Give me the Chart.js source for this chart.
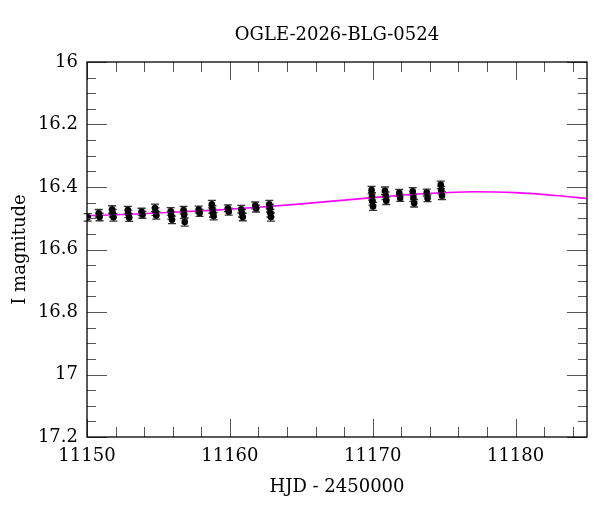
<!DOCTYPE html>
<html>
<head>
<meta charset="utf-8">
<script src="https://cdn.jsdelivr.net/npm/chart.js@4.4.1/dist/chart.umd.min.js"></script>
<style>
  html, body { margin: 0; padding: 0; background: #fff; }
  #wrap { width: 600px; height: 512px; }
</style>
</head>
<body>
<div id="wrap"><canvas id="lc"></canvas></div>
<script>
// observations: HJD - 2450000, I magnitude, error
var obsHjd = [
  11150.05,
  11150.82, 11150.88,
  11151.76, 11151.80, 11151.85,
  11152.86, 11152.90, 11152.95,
  11153.82, 11153.88,
  11154.76, 11154.80, 11154.85,
  11155.86, 11155.90, 11155.95,
  11156.76, 11156.80, 11156.84,
  11157.82, 11157.88,
  11158.74, 11158.78, 11158.82, 11158.86,
  11159.86, 11159.92,
  11160.80, 11160.85, 11160.90,
  11161.78, 11161.84,
  11162.76, 11162.80, 11162.84, 11162.88,
  11169.92, 11169.95, 11169.98, 11170.02,
  11170.86, 11170.90, 11170.95,
  11171.86, 11171.92,
  11172.80, 11172.85, 11172.90,
  11173.78, 11173.84,
  11174.76, 11174.80, 11174.85
];
var obsMag = [
  16.497,
  16.484, 16.496,
  16.472, 16.484, 16.497,
  16.474, 16.486, 16.498,
  16.479, 16.489,
  16.467, 16.479, 16.491,
  16.478, 16.491, 16.505,
  16.474, 16.489, 16.512,
  16.472, 16.483,
  16.455, 16.472, 16.484, 16.493,
  16.468, 16.479,
  16.471, 16.484, 16.496,
  16.459, 16.469,
  16.455, 16.468, 16.484, 16.496,
  16.410, 16.430, 16.446, 16.462,
  16.412, 16.428, 16.444,
  16.419, 16.435,
  16.414, 16.434, 16.452,
  16.418, 16.436,
  16.393, 16.410, 16.428
];
var obsErr = [
  0.012,
  0.012, 0.012,
  0.012, 0.012, 0.012,
  0.012, 0.012, 0.012,
  0.011, 0.011,
  0.012, 0.012, 0.012,
  0.012, 0.012, 0.012,
  0.012, 0.012, 0.013,
  0.011, 0.011,
  0.012, 0.012, 0.012, 0.012,
  0.011, 0.011,
  0.012, 0.012, 0.012,
  0.011, 0.011,
  0.012, 0.012, 0.012, 0.013,
  0.012, 0.012, 0.012, 0.013,
  0.012, 0.012, 0.012,
  0.011, 0.011,
  0.012, 0.012, 0.012,
  0.011, 0.011,
  0.012, 0.012, 0.012
];

// model curve
var modelHjd = [11150, 11153, 11156, 11159, 11162, 11165, 11168, 11171, 11174, 11177, 11180, 11183, 11185];
var modelMag = [16.492, 16.487, 16.481, 16.474, 16.465, 16.454, 16.442, 16.430, 16.420, 16.415, 16.418, 16.428, 16.437];

var xTicks = [11150, 11160, 11170, 11180];
var yTicks = [16, 16.2, 16.4, 16.6, 16.8, 17, 17.2];

var titleText = 'OGLE-2026-BLG-0524';
var serif = '"DejaVu Serif", "Liberation Serif", serif';

var points = [];
for (var i = 0; i < obsHjd.length; i++) {
  points.push({x: obsHjd[i], y: obsMag[i], err: obsErr[i]});
}
var model = [];
for (var j = 0; j < modelHjd.length; j++) {
  model.push({x: modelHjd[j], y: modelMag[j]});
}

// error bars under the points
var errorBars = {
  id: 'errorBars',
  beforeDatasetsDraw: function(chart) {
    var ctx = chart.ctx, xs = chart.scales.x, ys = chart.scales.y;
    ctx.save();
    ctx.strokeStyle = '#333';
    ctx.lineWidth = 1.3;
    points.forEach(function(p) {
      var px = xs.getPixelForValue(p.x);
      var y1 = ys.getPixelForValue(p.y - p.err);
      var y2 = ys.getPixelForValue(p.y + p.err);
      ctx.beginPath();
      ctx.moveTo(px, y1); ctx.lineTo(px, y2);
      ctx.moveTo(px - 4, y1); ctx.lineTo(px + 4, y1);
      ctx.moveTo(px - 4, y2); ctx.lineTo(px + 4, y2);
      ctx.stroke();
    });
    ctx.restore();
  }
};

// frame with inward ticks on all four sides, title centred on the plot box
var frame = {
  id: 'frame',
  afterDraw: function(chart) {
    var ctx = chart.ctx, a = chart.chartArea, xs = chart.scales.x, ys = chart.scales.y;
    ctx.save();
    ctx.strokeStyle = '#555';
    ctx.lineWidth = 1;
    ctx.beginPath();
    for (var d = 11150; d <= 11185; d += 2) {
      var px = Math.round(xs.getPixelForValue(d)) + 0.5;
      var len = (d % 10 === 0) ? 18 : 10;
      ctx.moveTo(px, a.bottom); ctx.lineTo(px, a.bottom - len);
      ctx.moveTo(px, a.top); ctx.lineTo(px, a.top + len);
    }
    for (var k = 0; k <= 24; k++) {
      var py = Math.round(ys.getPixelForValue(16 + k * 0.05)) + 0.5;
      var l2 = (k % 4 === 0) ? 20 : 9;
      ctx.moveTo(a.left, py); ctx.lineTo(a.left + l2, py);
      ctx.moveTo(a.right, py); ctx.lineTo(a.right - l2, py);
    }
    ctx.stroke();
    ctx.strokeStyle = '#000';
    ctx.lineWidth = 1.3;
    ctx.strokeRect(a.left, a.top, a.right - a.left, a.bottom - a.top);

    ctx.fillStyle = '#000';
    ctx.font = '18px ' + serif;
    ctx.textAlign = 'center';
    ctx.textBaseline = 'middle';
    ctx.fillText(titleText, (a.left + a.right) / 2, 35);
    ctx.restore();
  }
};

new Chart(document.getElementById('lc'), {
  type: 'scatter',
  data: {
    datasets: [{
      type: 'line',
      data: model,
      borderColor: '#ff00ff',
      borderWidth: 1.6,
      pointRadius: 0,
      tension: 0.4,
      cubicInterpolationMode: 'monotone',
      order: 2
    }, {
      data: points,
      backgroundColor: '#000',
      borderColor: '#000',
      pointRadius: 3.3,
      borderWidth: 0,
      order: 1
    }]
  },
  options: {
    responsive: true,
    maintainAspectRatio: false,
    animation: false,
    layout: { padding: { left: 0, right: 13, top: 62, bottom: 0 } },
    plugins: {
      legend: { display: false },
      tooltip: { enabled: false },
      title: { display: false }
    },
    scales: {
      x: {
        type: 'linear',
        min: 11150,
        max: 11185,
        afterBuildTicks: function(s) { s.ticks = xTicks.map(function(v) { return {value: v}; }); },
        afterFit: function(s) { s.height = 75; },
        grid: { display: false, drawTicks: false },
        border: { display: false },
        ticks: {
          color: '#000',
          padding: 9,
          maxRotation: 0,
          font: { family: serif, size: 18 },
          callback: function(v) { return String(v); }
        },
        title: {
          display: true,
          text: 'HJD - 2450000',
          color: '#000',
          font: { family: serif, size: 18 },
          padding: { top: 4, bottom: 14 }
        }
      },
      y: {
        type: 'linear',
        reverse: true,
        min: 16,
        max: 17.2,
        afterBuildTicks: function(s) { s.ticks = yTicks.map(function(v) { return {value: v}; }); },
        afterFit: function(s) { s.width = 87; },
        grid: { display: false, drawTicks: false },
        border: { display: false },
        ticks: {
          color: '#000',
          padding: 9,
          font: { family: serif, size: 18 },
          callback: function(v) { return String(v); }
        },
        title: {
          display: true,
          text: 'I magnitude',
          color: '#000',
          font: { family: serif, size: 18 },
          padding: { top: 10, bottom: 4 }
        }
      }
    }
  },
  plugins: [errorBars, frame]
});
</script>
</body>
</html>
